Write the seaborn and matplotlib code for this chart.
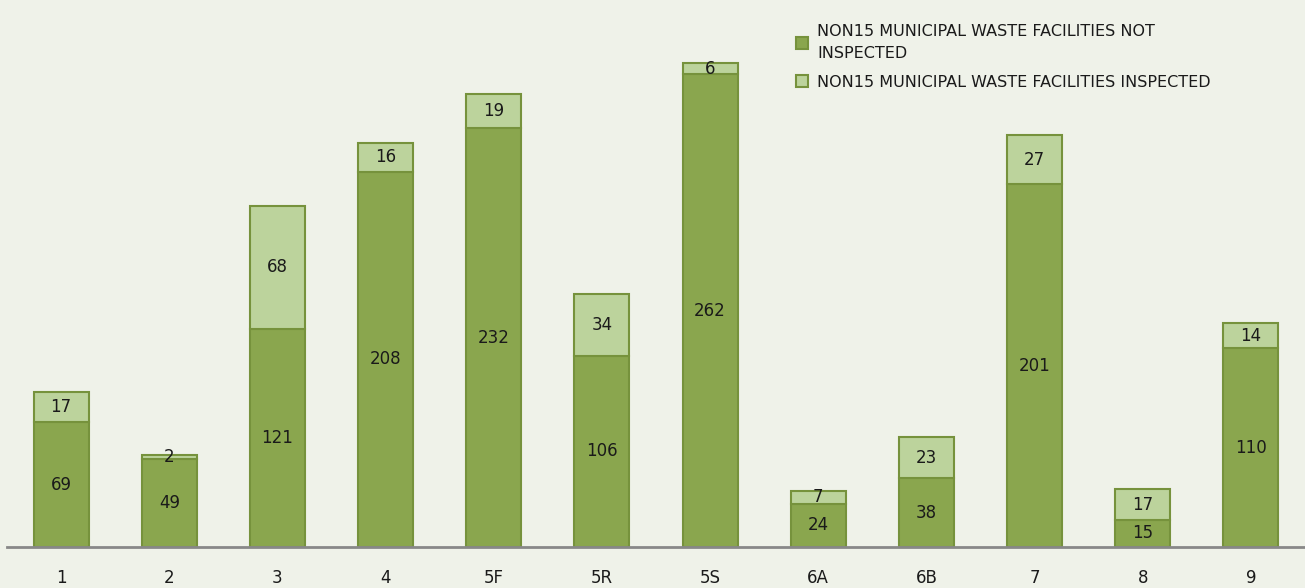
import matplotlib
matplotlib.use("Agg")
import matplotlib.pyplot as plt
import seaborn as sns
import pandas as pd
from matplotlib.patches import Patch

categories = ["1", "2", "3", "4", "5F", "5R", "5S", "6A", "6B", "7", "8", "9"]
not_inspected = [69, 49, 121, 208, 232, 106, 262, 24, 38, 201, 15, 110]
inspected = [17, 2, 68, 16, 19, 34, 6, 7, 23, 27, 17, 14]

sns.set_theme(style="white")
plt.rcParams['font.family'] = ['DejaVu Sans']

bg = "#eff2e9"
dark = "#8aa64e"
light = "#bcd39c"
edge = "#76923c"

df = pd.DataFrame({"cat": categories, "ni": not_inspected, "ins": inspected})

fig = plt.figure(figsize=(13.05, 5.88), dpi=100, facecolor=bg)
ax = fig.add_axes([7/1305, 41/588, 1298/1305, 547/588])
ax.set_facecolor(bg)

sns.barplot(data=df, x="cat", y="ni", color=dark, edgecolor=edge, linewidth=1.5,
            width=0.51, saturation=1, ax=ax)
sns.barplot(data=df, x="cat", y="ins", color=light, edgecolor=edge, linewidth=1.5,
            width=0.51, saturation=1, bottom=df["ni"].values, ax=ax)

for c in ax.containers:
    ax.bar_label(c, label_type="center", fontsize=12, color="#1a1a1a")

ax.set_xlim(-0.5, 11.5)
ax.set_ylim(0, 303)
ax.set_xlabel("")
ax.set_ylabel("")
ax.set_yticks([])
for s in ["top", "left", "right"]:
    ax.spines[s].set_visible(False)
ax.spines["bottom"].set_color("#888888")
ax.spines["bottom"].set_linewidth(2)
ax.tick_params(axis="x", length=0, pad=16, labelsize=12, labelcolor="#1a1a1a")

handles = [Patch(facecolor=dark, edgecolor=edge, linewidth=1.5),
           Patch(facecolor=light, edgecolor=edge, linewidth=1.5)]
labels = ["NON15 MUNICIPAL WASTE FACILITIES NOT\nINSPECTED",
          "NON15 MUNICIPAL WASTE FACILITIES INSPECTED"]
leg = ax.legend(handles, labels, loc="upper left", bbox_to_anchor=(783/1298, 0.968),
                frameon=False, fontsize=11.5, handlelength=0.75, handleheight=0.75,
                handletextpad=0.55, labelspacing=0.85, borderaxespad=0)
for t in leg.get_texts():
    t.set_color("#1a1a1a")
    t.set_linespacing(1.6)

fig.savefig("out.png", dpi=100, facecolor=bg)
